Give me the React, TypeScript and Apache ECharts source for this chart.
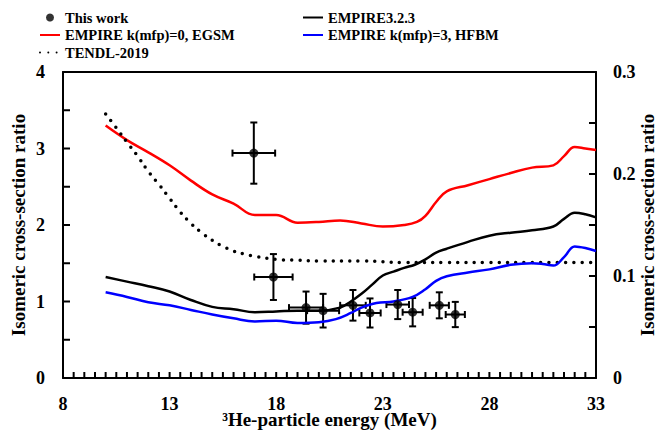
import React, { useEffect, useRef } from "react";
import * as echarts from "echarts";

// Experimental data: energy (MeV), ratio, energy error, ratio error
const expEnergy = [16.95, 17.87, 19.4, 20.2, 21.6, 22.4, 23.7, 24.4, 25.65, 26.4];
const expRatio = [2.94, 1.32, 0.92, 0.88, 0.95, 0.85, 0.96, 0.86, 0.95, 0.83];
const expEnergyErr = [1.0, 0.9, 0.8, 0.75, 0.6, 0.5, 0.53, 0.47, 0.45, 0.45];
const expRatioErr = [0.4, 0.3, 0.21, 0.22, 0.2, 0.19, 0.19, 0.185, 0.17, 0.165];

// EMPIRE k(mfp)=0, EGSM (red)
const egsmX = [10, 11, 12, 13, 14, 15, 16, 17, 18, 19, 20, 21, 22, 23, 24, 24.6, 25, 25.5, 26, 27, 28, 29, 30, 31, 31.5, 32, 32.5, 33];
const egsmY = [3.3, 3.11, 2.95, 2.78, 2.58, 2.4, 2.28, 2.13, 2.13, 2.03, 2.04, 2.06, 2.02, 1.98, 2.0, 2.04, 2.12, 2.3, 2.44, 2.52, 2.6, 2.68, 2.75, 2.78, 2.9, 3.02, 3.0, 2.98];

// TENDL-2019 (dotted)
const tendlX = [10, 10.5, 11, 11.5, 12, 12.5, 13, 13.5, 14, 14.5, 15, 15.5, 16, 16.5, 17, 18, 19, 20, 22, 24, 26, 28, 30, 33];
const tendlY = [3.45, 3.27, 3.08, 2.9, 2.7, 2.53, 2.35, 2.17, 2.02, 1.9, 1.8, 1.72, 1.66, 1.62, 1.59, 1.55, 1.54, 1.53, 1.53, 1.51, 1.51, 1.51, 1.51, 1.51];

// EMPIRE3.2.3 (black)
const empX = [10, 11, 12, 13, 14, 15, 16, 17, 18, 19, 20, 21, 21.5, 22, 22.5, 23, 23.5, 24, 24.5, 25, 25.5, 26, 27, 28, 29, 30, 31, 31.5, 32, 32.5, 33];
const empY = [1.32, 1.26, 1.2, 1.13, 1.02, 0.93, 0.9, 0.86, 0.87, 0.88, 0.88, 0.92, 1.0, 1.1, 1.22, 1.34, 1.39, 1.44, 1.48, 1.55, 1.64, 1.69, 1.78, 1.86, 1.9, 1.93, 1.98, 2.08, 2.16, 2.14, 2.1];

// EMPIRE k(mfp)=3, HFBM (blue)
const hfbmX = [10, 11, 12, 13, 14, 15, 16, 17, 18, 19, 20, 20.8, 21.5, 22, 22.7, 23.5, 24.4, 25, 25.5, 26, 27, 28, 29, 30, 30.5, 31, 31.5, 32, 32.5, 33];
const hfbmY = [1.12, 1.06, 0.99, 0.95, 0.89, 0.83, 0.78, 0.74, 0.75, 0.72, 0.73, 0.77, 0.85, 0.92, 0.98, 1.0, 1.06, 1.16, 1.27, 1.33, 1.38, 1.42, 1.48, 1.5, 1.49, 1.47, 1.58, 1.72, 1.7, 1.66];

// Axis ranges and tick marks
const xTicks = { min: 8, max: 33, interval: 5 };
const yLeftTicks = { min: 0, max: 4, interval: 1 };
const yRightTicks = { min: 0, max: 0.3, interval: 0.1 };
const xTickMarks = Array.from({ length: 49 }, (_, i) => 8.5 + i * 0.5);
const yLeftTickMarks = [0.5, 1, 1.5, 2, 2.5, 3, 3.5];
const yRightTickMarks = [0.05, 0.1, 0.15, 0.2, 0.25];

const FONT = "Liberation Serif";

const zip = (xs: number[], ys: number[]) => xs.map((x, i) => [x, ys[i]]);

export default function App() {
  const ref = useRef<HTMLDivElement>(null);
  useEffect(() => {
    if (!ref.current) return;
    const chart = echarts.init(ref.current, null, { renderer: "svg" });
    const axisLabel = { color: "#000", fontFamily: FONT, fontWeight: "bold" as const, fontSize: 18 };
    const nameStyle = { color: "#000", fontFamily: FONT, fontWeight: "bold" as const, fontSize: 19 };
    const lineAxis = () => ({ show: true, onZero: false, lineStyle: { color: "#000", width: 2 } });
    const legendText = { color: "#000", fontFamily: FONT, fontWeight: "bold" as const, fontSize: 14.5 };
    const errData = expEnergy.map((x, i) => [x, expRatio[i], expEnergyErr[i], expRatioErr[i]]);
    const noSym = { itemStyle: { opacity: 0 } };

    // Tick marks as small rect symbols placed through the axes' scales
    const tickScatter = (
      name: string,
      points: number[][],
      yAxisIndex: number,
      size: number[],
      offset: number[]
    ) => ({
      name,
      type: "scatter",
      xAxisIndex: 0,
      yAxisIndex,
      data: points,
      symbol: "rect",
      symbolSize: size,
      symbolOffset: offset,
      clip: false,
      silent: true,
      itemStyle: { color: "#000", opacity: 1 },
      z: 6,
    });

    chart.setOption({
      animation: false,
      grid: {
        left: 63,
        right: 62,
        top: 72,
        bottom: 58,
        show: false,
        outerBoundsMode: "none",
        containLabel: false,
      },
      legend: [
        {
          left: 39,
          top: 10,
          orient: "vertical",
          padding: 0,
          itemGap: 2.5,
          itemWidth: 20,
          itemHeight: 8,
          textStyle: legendText,
          data: [
            { name: "This work" },
            { name: "EMPIRE k(mfp)=0, EGSM", ...noSym },
            { name: "TENDL-2019", ...noSym },
          ],
        },
        {
          left: 302,
          top: 10,
          orient: "vertical",
          padding: 0,
          itemGap: 2.5,
          itemWidth: 20,
          itemHeight: 8,
          textStyle: legendText,
          data: [
            { name: "EMPIRE3.2.3", ...noSym },
            { name: "EMPIRE k(mfp)=3, HFBM", ...noSym },
          ],
        },
      ],
      xAxis: [
        {
          type: "value",
          position: "bottom",
          min: xTicks.min,
          max: xTicks.max,
          interval: xTicks.interval,
          name: "³He-particle energy (MeV)",
          nameLocation: "middle",
          nameGap: 32,
          nameMoveOverlap: false,
          nameTextStyle: nameStyle,
          axisLine: lineAxis(),
          axisTick: { show: false },
          axisLabel: { ...axisLabel, margin: 17, hideOverlap: false },
          splitLine: { show: false },
        },
        {
          type: "value",
          position: "top",
          min: xTicks.min,
          max: xTicks.max,
          interval: xTicks.interval,
          axisLine: lineAxis(),
          axisTick: { show: false },
          axisLabel: { show: false },
          splitLine: { show: false },
        },
      ],
      yAxis: [
        {
          type: "value",
          min: yLeftTicks.min,
          max: yLeftTicks.max,
          interval: yLeftTicks.interval,
          position: "left",
          name: "Isomeric cross-section ratio",
          nameLocation: "middle",
          nameRotate: 90,
          nameGap: 35,
          nameMoveOverlap: false,
          nameTextStyle: nameStyle,
          axisLine: lineAxis(),
          axisTick: { show: false },
          axisLabel: { ...axisLabel, margin: 18 },
          splitLine: { show: false },
        },
        {
          type: "value",
          min: yRightTicks.min,
          max: yRightTicks.max,
          interval: yRightTicks.interval,
          position: "right",
          name: "Isomeric cross-section ratio",
          nameLocation: "middle",
          nameRotate: 90,
          nameGap: 42,
          nameMoveOverlap: false,
          nameTextStyle: nameStyle,
          axisLine: lineAxis(),
          axisTick: { show: false },
          axisLabel: { ...axisLabel, margin: 17, formatter: (v: number) => (v === 0 ? "0" : v.toFixed(1)) },
          splitLine: { show: false },
        },
      ],
      series: [
        tickScatter("xticks", xTickMarks.map((v) => [v, yLeftTicks.min]), 0, [2, 6], [0, -3]),
        tickScatter("yticksL", yLeftTickMarks.map((v) => [xTicks.min, v]), 0, [7, 2], [3.5, 0]),
        tickScatter("yticksR", yRightTickMarks.map((v) => [xTicks.max, v]), 1, [7, 2], [-3.5, 0]),
        {
          name: "EMPIRE k(mfp)=0, EGSM",
          type: "line",
          data: zip(egsmX, egsmY),
          showSymbol: false,
          symbol: "none",
          smooth: 0.4,
          lineStyle: { color: "#ff0000", width: 2.5 },
          itemStyle: { color: "#ff0000" },
        },
        {
          name: "TENDL-2019",
          type: "line",
          data: zip(tendlX, tendlY),
          showSymbol: false,
          symbol: "none",
          smooth: 0.4,
          lineStyle: { color: "#000", width: 3.5, type: [0, 8.3], cap: "round" },
          itemStyle: { color: "#000" },
        },
        {
          name: "EMPIRE3.2.3",
          type: "line",
          data: zip(empX, empY),
          showSymbol: false,
          symbol: "none",
          smooth: 0.4,
          lineStyle: { color: "#000", width: 2.5 },
          itemStyle: { color: "#000" },
        },
        {
          name: "EMPIRE k(mfp)=3, HFBM",
          type: "line",
          data: zip(hfbmX, hfbmY),
          showSymbol: false,
          symbol: "none",
          smooth: 0.4,
          lineStyle: { color: "#0000ff", width: 2.5 },
          itemStyle: { color: "#0000ff" },
        },
        {
          name: "errors",
          type: "custom",
          data: errData,
          encode: { x: 0, y: 1 },
          renderItem: (params: any, api: any) => {
            const x = api.value(0);
            const y = api.value(1);
            const xe = api.value(2);
            const ye = api.value(3);
            const l = api.coord([x - xe, y]);
            const r = api.coord([x + xe, y]);
            const t = api.coord([x, y + ye]);
            const b = api.coord([x, y - ye]);
            const cap = 3.5;
            const st = { stroke: "#000", lineWidth: 2 };
            return {
              type: "group",
              children: [
                { type: "line", shape: { x1: l[0], y1: l[1], x2: r[0], y2: r[1] }, style: st },
                { type: "line", shape: { x1: t[0], y1: t[1], x2: b[0], y2: b[1] }, style: st },
                { type: "line", shape: { x1: l[0], y1: l[1] - cap, x2: l[0], y2: l[1] + cap }, style: st },
                { type: "line", shape: { x1: r[0], y1: r[1] - cap, x2: r[0], y2: r[1] + cap }, style: st },
                { type: "line", shape: { x1: t[0] - cap, y1: t[1], x2: t[0] + cap, y2: t[1] }, style: st },
                { type: "line", shape: { x1: b[0] - cap, y1: b[1], x2: b[0] + cap, y2: b[1] }, style: st },
              ],
            };
          },
          z: 3,
        },
        {
          name: "This work",
          type: "scatter",
          data: zip(expEnergy, expRatio),
          symbol: "circle",
          symbolSize: 9,
          itemStyle: { color: "#000" },
          z: 4,
        },
      ],
    });
    return () => chart.dispose();
  }, []);
  return <div ref={ref} style={{ width: 658, height: 436, position: "absolute", left: 0, top: 0 }} />;
}
